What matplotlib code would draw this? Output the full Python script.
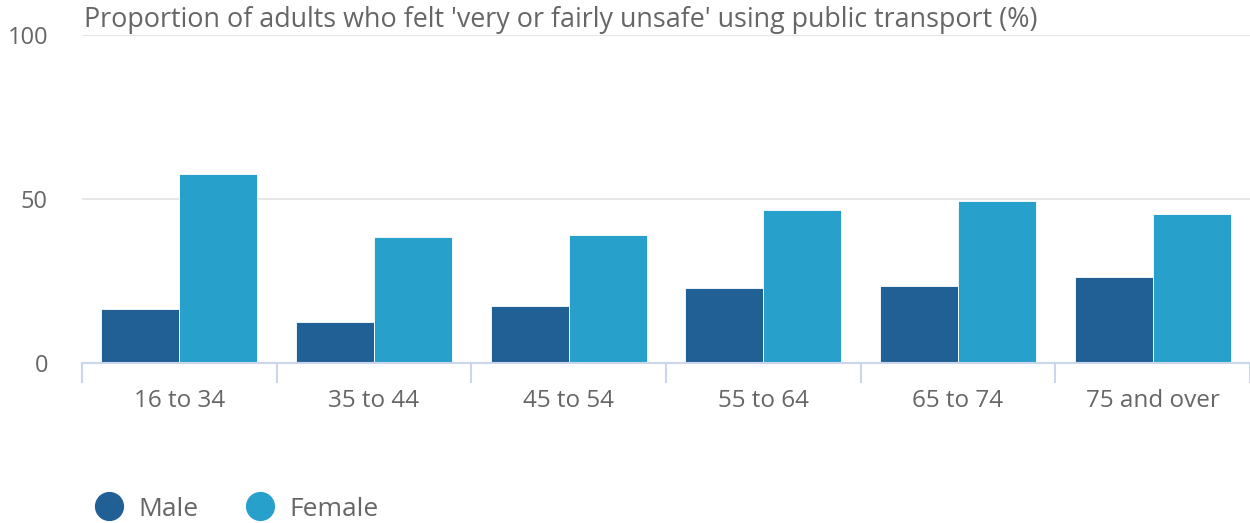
import matplotlib
matplotlib.use("Agg")
import matplotlib.pyplot as plt
from matplotlib.lines import Line2D
import numpy as np

plt.rcParams['font.family'] = ['Open Sans', 'DejaVu Sans']

categories = ["16 to 34", "35 to 44", "45 to 54", "55 to 64", "65 to 74", "75 and over"]
male = [16.5, 12.4, 17.4, 22.8, 23.4, 26.1]
female = [57.5, 38.4, 39.0, 46.6, 49.4, 45.3]
series_names = ["Male", "Female"]
yticks = [0, 50, 100]
title = "Proportion of adults who felt 'very or fairly unsafe' using public transport (%)"

c_male = "#206095"
c_female = "#27a0cc"
text_c = "#666666"

W, H = 1250, 523
fig = plt.figure(figsize=(W / 100, H / 100), dpi=100)
left, right, top, bottom = 82, 1250, 35, 363
ax = fig.add_axes([left / W, 1 - bottom / H, (right - left) / W, (bottom - top) / H])

x = np.arange(len(categories))
bw = 0.4
ax.bar(x - bw / 2, male, width=bw, color=c_male, edgecolor="white", linewidth=0.6, zorder=3)
ax.bar(x + bw / 2, female, width=bw, color=c_female, edgecolor="white", linewidth=0.6, zorder=3)

ax.set_xlim(-0.5, len(categories) - 0.5)
ax.set_ylim(0, 100)
ax.set_yticks(yticks)
ax.set_yticklabels([str(v) for v in yticks])
for s in ["top", "right", "left"]:
    ax.spines[s].set_visible(False)
ax.spines["bottom"].set_color("#ccd6eb")
ax.spines["bottom"].set_linewidth(1.5)
ax.spines["bottom"].set_zorder(4)
ax.grid(axis="y", color="#e6e6e6", linewidth=1.5, zorder=0)
ax.tick_params(axis="y", length=0, pad=34 * 0.72, labelsize=17, labelcolor=text_c)

# category boundary ticks
ax.set_xticks(np.arange(len(categories) + 1) - 0.5)
ax.set_xticklabels([])
ax.tick_params(axis="x", which="major", length=20 * 0.72, width=1.5, color="#ccd6eb")
ax.set_xticks(x, minor=True)
ax.set_xticklabels(categories, minor=True)
ax.tick_params(axis="x", which="minor", length=0, pad=26 * 0.72, labelsize=17.5, labelcolor=text_c)

fig.text(84 / W, 1 - 20 / H, title, fontsize=19.4, color=text_c, ha="left", va="center")

handles = [Line2D([0], [0], marker="o", linestyle="", markersize=20, markerfacecolor=c,
                  markeredgecolor=c) for c in (c_male, c_female)]
fig.legend(handles, series_names, loc="center left", bbox_to_anchor=(96 / W, 1 - 509 / H),
           ncol=2, frameon=False, fontsize=19, labelcolor=text_c, handletextpad=0.6,
           columnspacing=1.85, handlelength=1.0, borderaxespad=0, borderpad=0)

fig.savefig("out.png", dpi=100)
